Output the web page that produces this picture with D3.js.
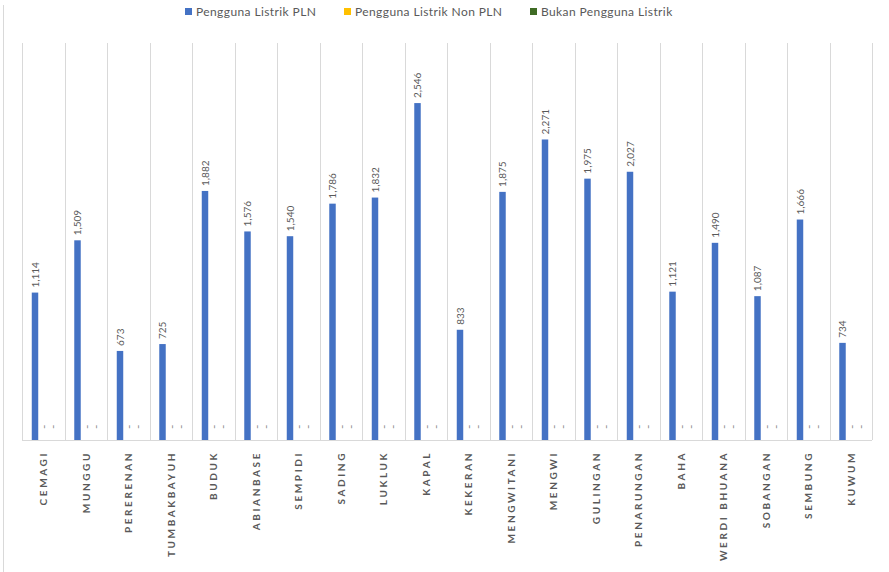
<!DOCTYPE html>
<html>
<head>
<meta charset="utf-8">
<script src="https://cdn.jsdelivr.net/npm/d3@7"></script>
<style>
  html, body { margin: 0; padding: 0; background: #ffffff; }
  svg { display: block; font-family: Lato, "Open Sans", sans-serif; }
</style>
</head>
<body>
<svg id="chart" width="889" height="572"></svg>
<script>
// ---- data ----
const categories = ["CEMAGI","MUNGGU","PERERENAN","TUMBAKBAYUH","BUDUK","ABIANBASE","SEMPIDI","SADING","LUKLUK","KAPAL","KEKERAN","MENGWITANI","MENGWI","GULINGAN","PENARUNGAN","BAHA","WERDI BHUANA","SOBANGAN","SEMBUNG","KUWUM"];
const seriesNames = ["Pengguna Listrik PLN","Pengguna Listrik Non PLN","Bukan Pengguna Listrik"];
const plnValues    = [1114,1509,673,725,1882,1576,1540,1786,1832,2546,833,1875,2271,1975,2027,1121,1490,1087,1666,734];
const nonPlnValues = [0,0,0,0,0,0,0,0,0,0,0,0,0,0,0,0,0,0,0,0];
const bukanValues  = [0,0,0,0,0,0,0,0,0,0,0,0,0,0,0,0,0,0,0,0];
const yDomainMax = 3000;
const colors = ["#4472C4","#FFC000","#3F6B24"];

const seriesValues = [plnValues, nonPlnValues, bukanValues];
const rows = categories.map((c, i) => ({
  cat: c,
  vals: seriesNames.map((s, j) => ({ series: s, idx: j, value: seriesValues[j][i] }))
}));

const svg = d3.select("#chart");
const plotLeft = 22, plotRight = 872, plotTop = 43, plotBottom = 440;

const x0 = d3.scaleBand().domain(categories).range([plotLeft, plotRight]).padding(0);
const x1 = d3.scaleBand().domain(seriesNames).range([8.5, 35.5]).paddingInner(0.28).paddingOuter(0.14);
const y = d3.scaleLinear().domain([0, yDomainMax]).range([plotBottom, plotTop]);
const color = d3.scaleOrdinal().domain(seriesNames).range(colors);

// chart border (left edge)
svg.append("line").attr("x1", 3.5).attr("x2", 3.5).attr("y1", 5).attr("y2", 572)
  .attr("stroke", "#D9D9D9").attr("stroke-width", 1);

// vertical category gridlines
const gridX = categories.map(c => x0(c)).concat([x0(categories[categories.length-1]) + x0.bandwidth()]);
svg.append("g").selectAll("line").data(gridX).join("line")
  .attr("x1", d => Math.round(d) + 0.5).attr("x2", d => Math.round(d) + 0.5)
  .attr("y1", plotTop).attr("y2", plotBottom)
  .attr("stroke", "#D9D9D9").attr("stroke-width", 1);

// bars
const groups = svg.append("g").selectAll("g").data(rows).join("g")
  .attr("transform", d => `translate(${x0(d.cat)},0)`);

groups.selectAll("rect").data(d => d.vals).join("rect")
  .attr("x", d => x1(d.series))
  .attr("width", x1.bandwidth())
  .attr("y", d => y(d.value))
  .attr("height", d => y(0) - y(d.value))
  .attr("fill", d => color(d.series));

// value labels (rotated)
const fmt = d3.format(",");
groups.selectAll("text.val").data(d => d.vals).join("text")
  .attr("class", "val")
  .attr("transform", d => {
    const cx = x1(d.series) + x1.bandwidth() / 2 + (d.value === 0 ? 4 : 3.5);
    const cy = d.value === 0 ? y(d.value) - 11 : y(d.value) - 5;
    return `translate(${cx},${cy}) rotate(-90)`;
  })
  .attr("text-anchor", "start")
  .attr("font-size", d => d.value === 0 ? 12 : 10)
  .attr("fill", d => d.value === 0 ? "#8C8C8C" : "#595959")
  .text(d => d.value === 0 ? "-" : fmt(d.value));

// x axis baseline
svg.append("line").attr("x1", plotLeft).attr("x2", plotRight).attr("y1", plotBottom + 0.5).attr("y2", plotBottom + 0.5)
  .attr("stroke", "#D9D9D9").attr("stroke-width", 1);

// category labels
const xAxis = d3.axisBottom(x0).tickSize(0).tickPadding(0);
const gx = svg.append("g").attr("transform", `translate(0,${plotBottom})`).call(xAxis);
gx.select(".domain").remove();
gx.selectAll(".tick text")
  .attr("transform", "translate(4,11) rotate(-90)")
  .attr("text-anchor", "end")
  .attr("dy", 0)
  .attr("y", 0)
  .attr("font-family", "Lato, 'Open Sans', sans-serif")
  .attr("font-size", 10)
  .attr("font-weight", "bold")
  .attr("letter-spacing", "2.6px")
  .attr("fill", "#595959");

// legend
const legendX = [185, 344, 530];
const legend = svg.append("g").selectAll("g").data(seriesNames).join("g")
  .attr("transform", (d, i) => `translate(${legendX[i]},6)`);
legend.append("rect").attr("width", 7).attr("height", 7).attr("y", 2).attr("fill", d => color(d));
legend.append("text").attr("x", 11).attr("y", 9.5)
  .attr("font-size", 12).attr("letter-spacing", "0.4px")
  .attr("fill", "#595959").text(d => d);
</script>
</body>
</html>
